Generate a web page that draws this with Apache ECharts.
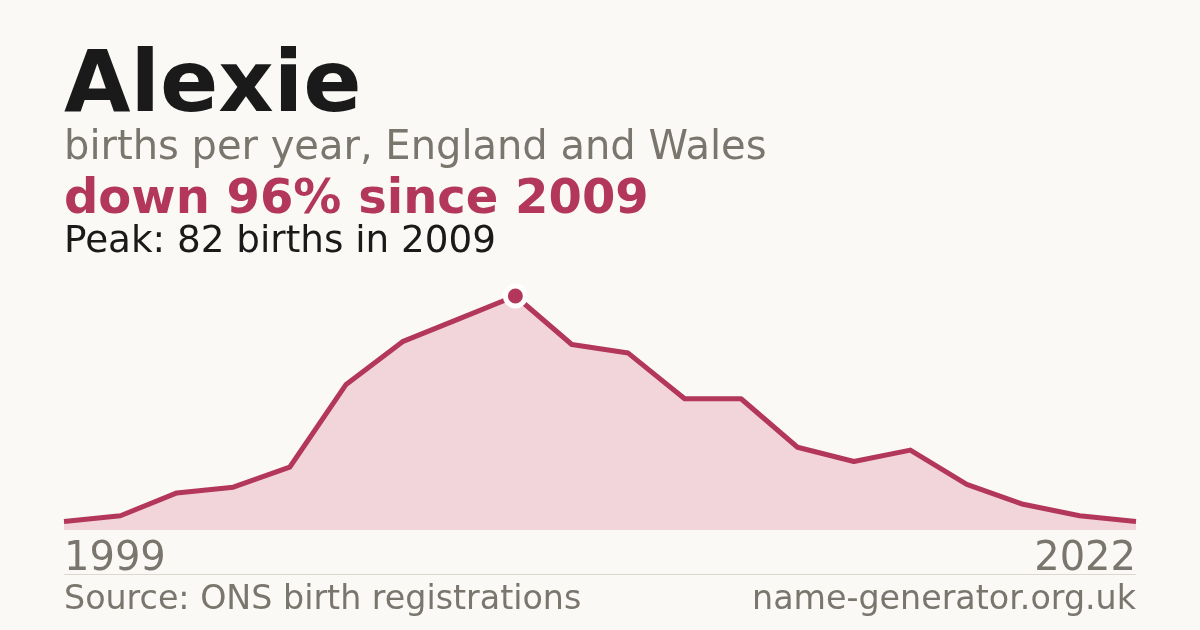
<!DOCTYPE html>
<html><head><meta charset="utf-8">
<script src="https://cdn.jsdelivr.net/npm/echarts@6/dist/echarts.min.js"></script>
<style>html,body{margin:0;padding:0;background:#faf9f5;}#c{width:1200px;height:630px;}</style>
</head><body><div id="c"></div>
<script>
const years = ['1999','2002','2003','2004','2005','2006','2007','2008','2009','2010','2011','2012','2013','2014','2015','2016','2017','2018','2020','2022'];
const births = [3,5,13,15,22,51,66,74,82,65,62,46,46,29,24,28,16,9,5,3];
const peakIndex = 8;
const nameTitle = 'Alexie';
const subtitle = 'births per year, England and Wales';
const trendText = 'down 96% since 2009';
const peakText = 'Peak: 82 births in 2009';
const sourceText = 'Source: ONS birth registrations';
const siteText = 'name-generator.org.uk';

const FONT = 'DejaVu Sans';
const RED = '#b3375a';
const GRAY = '#7a766e';

const chart = echarts.init(document.getElementById('c'), null, {renderer:'canvas'});
chart.setOption({
  backgroundColor: '#faf9f5',
  animation: false,
  grid: {left: 64, right: 64, top: 296, bottom: 100},
  xAxis: {
    type: 'category', data: years, boundaryGap: false,
    axisLine: {show: false}, axisTick: {show: false}, splitLine: {show: false},
    axisLabel: {
      interval: (i) => i === 0 || i === years.length - 1,
      alignMinLabel: 'left', alignMaxLabel: 'right',
      color: GRAY, fontFamily: FONT, fontSize: 40, margin: 10
    }
  },
  yAxis: {type: 'value', min: 0, max: 82, show: false},
  series: [{
    type: 'line',
    data: births.map((v, i) => i === peakIndex
      ? {value: v, symbol: 'circle', symbolSize: 20, itemStyle: {color: RED, borderColor: '#ffffff', borderWidth: 5}}
      : v),
    symbol: 'none', showSymbol: true,
    lineStyle: {color: RED, width: 5, join: 'round'},
    areaStyle: {color: '#f2d5da', opacity: 1},
    itemStyle: {color: RED},
    z: 2
  }],
  graphic: [
    {type:'text', left: 64, top: 46, style:{text: nameTitle, font: 'bold 86px "DejaVu Sans"', fill:'#1a1a1a'}},
    {type:'text', left: 64, top: 129, style:{text: subtitle, font: '40px "DejaVu Sans"', fill: GRAY}},
    {type:'text', left: 64, top: 177, style:{text: trendText, font: 'bold 48px "DejaVu Sans"', fill: RED}},
    {type:'text', left: 64, top: 224, style:{text: peakText, font: '37.3px "DejaVu Sans"', fill:'#1a1a1a'}},
    {type:'line', shape:{x1:64, y1:574.5, x2:1136, y2:574.5}, style:{stroke:'#dcd8cf', lineWidth:1}},
    {type:'text', left: 64, top: 584, style:{text: sourceText, font: '33.3px "DejaVu Sans"', fill: GRAY}},
    {type:'text', right: 64, top: 584, style:{text: siteText, font: '33.3px "DejaVu Sans"', fill: GRAY}}
  ]
});
</script></body></html>
